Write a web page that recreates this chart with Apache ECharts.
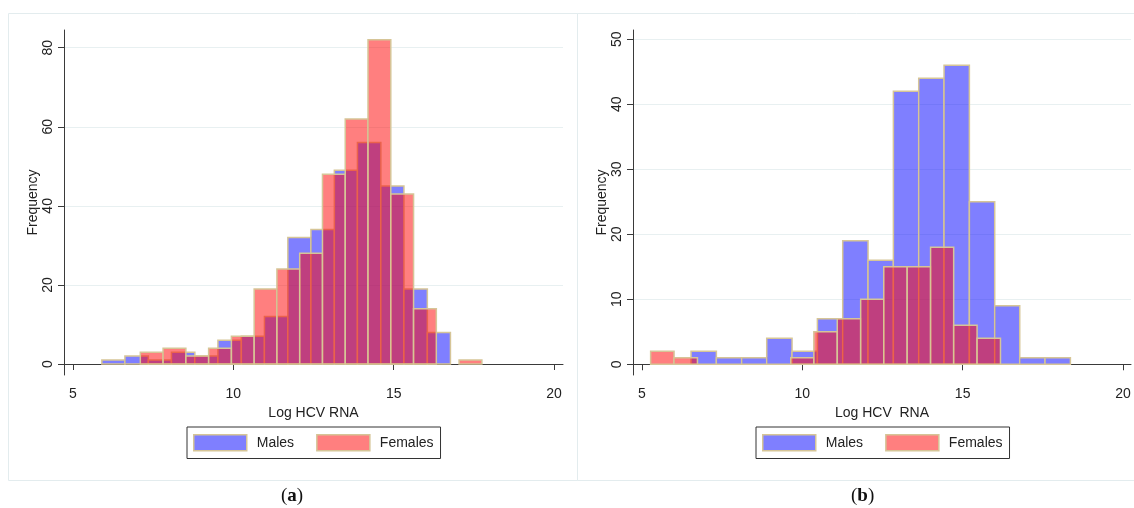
<!DOCTYPE html>
<html>
<head>
<meta charset="utf-8">
<script src="https://cdn.jsdelivr.net/npm/echarts@6/dist/echarts.min.js"></script>
<style>
  html, body { margin: 0; padding: 0; background: #fff; }
  #chart { width: 1134px; height: 508px; }
</style>
</head>
<body>
<div id="chart"></div>
<script>
// bin edges (Log HCV RNA)
const maleBinsA = [5.90, 6.62, 7.35, 8.07, 8.80, 9.52, 10.25, 10.97, 11.70, 12.42, 13.15, 13.87, 14.60, 15.32, 16.05, 16.77];
const femaleBinsA = [7.10, 7.81, 8.52, 9.23, 9.94, 10.65, 11.36, 12.07, 12.78, 13.49, 14.20, 14.91, 15.62, 16.33, 17.04, 17.75];
const maleBinsB = [6.53, 7.32, 8.11, 8.89, 9.68, 10.47, 11.26, 12.05, 12.84, 13.63, 14.42, 15.21, 16.00, 16.78, 17.57, 18.36];
const femaleBinsB = [5.27, 6.00, 6.73, 7.45, 8.18, 8.91, 9.64, 10.36, 11.09, 11.82, 12.54, 13.27, 14.00, 14.72, 15.45, 16.18];

// frequencies
const maleCountsA = [1, 2, 1, 3, 2, 6, 7, 12, 32, 34, 49, 56, 45, 19, 8];
const femaleCountsA = [3, 4, 2, 4, 7, 19, 24, 28, 48, 62, 82, 43, 14, 0, 1];
const maleCountsB = [2, 1, 1, 4, 2, 7, 19, 16, 42, 44, 46, 25, 9, 1, 1];
const femaleCountsB = [2, 1, 0, 0, 0, 0, 1, 5, 7, 10, 15, 15, 18, 6, 4];

// tick labels
const xTicks = [5, 10, 15, 20];
const yTicksA = [0, 20, 40, 60, 80];
const yTicksB = [0, 10, 20, 30, 40, 50];

const font = 'Liberation Sans';
const textColor = '#222';
const axisColor = '#3a3a3a';
const gridColor = '#e8f0f1';
const sand = '#d6c597';
const blue = 'rgba(0,0,255,0.5)';
const red = 'rgba(255,0,0,0.5)';

function toBins(edges, counts) {
    return counts.map((c, i) => [edges[i], edges[i + 1], c]);
}

function renderBar(params, api) {
    const h = api.value(2);
    if (!h) return null;
    const p0 = api.coord([api.value(0), h]);
    const p1 = api.coord([api.value(1), 0]);
    return {
        type: 'rect',
        shape: { x: p0[0], y: p0[1], width: p1[0] - p0[0], height: p1[1] - p0[1] },
        style: api.style()
    };
}

function makeXAxis(idx, max, name) {
    return {
        type: 'value', gridIndex: idx, min: 4.72, max: max,
        name: name, nameLocation: 'middle', nameGap: 28,
        nameTextStyle: { fontFamily: font, fontSize: 14, color: textColor },
        axisLine: { show: true, lineStyle: { color: axisColor, width: 1 } },
        axisTick: { show: true, length: 6, customValues: xTicks, lineStyle: { color: axisColor } },
        axisLabel: { customValues: xTicks, margin: 12, fontFamily: font, fontSize: 14, color: textColor },
        splitLine: { show: false }
    };
}

function makeYAxis(idx, min, max, ticks) {
    return {
        type: 'value', gridIndex: idx, min: min, max: max,
        name: 'Frequency', nameLocation: 'middle', nameGap: 24,
        nameTextStyle: { fontFamily: font, fontSize: 14, color: textColor },
        axisLine: { show: true, lineStyle: { color: axisColor, width: 1 } },
        axisTick: { show: true, length: 6, customValues: ticks, lineStyle: { color: axisColor } },
        axisLabel: { customValues: ticks, rotate: 90, margin: 9, fontFamily: font, fontSize: 14, color: textColor },
        splitLine: { show: false }
    };
}

function gridLines(idx, ticks) {
    return {
        type: 'line', xAxisIndex: idx, yAxisIndex: idx, data: [], z: 0,
        markLine: {
            z: 0, silent: true, symbol: ['none', 'none'], animation: false,
            label: { show: false },
            lineStyle: { color: gridColor, width: 1, type: 'solid' },
            data: ticks.map(v => ({ yAxis: v }))
        }
    };
}

function histSeries(idx, name, color, edges, counts) {
    return {
        type: 'custom', name: name, xAxisIndex: idx, yAxisIndex: idx, z: 4,
        renderItem: renderBar,
        itemStyle: { color: color, borderColor: sand, borderWidth: 1.5 },
        encode: { x: [0, 1], y: 2 },
        data: toBins(edges, counts)
    };
}

function makeLegend(left) {
    return {
        left: left, top: 427, orient: 'horizontal', selectedMode: false,
        icon: 'rect', itemWidth: 53, itemHeight: 16, itemGap: 22,
        borderColor: '#333', borderWidth: 1, padding: [7, 7, 7, 6],
        textStyle: { fontFamily: font, fontSize: 14, color: textColor, padding: [0, 0, 0, 5] },
        data: [
            { name: 'Males', itemStyle: { color: blue, borderColor: sand, borderWidth: 1.5 } },
            { name: 'Females', itemStyle: { color: red, borderColor: sand, borderWidth: 1.5 } }
        ]
    };
}

const chart = echarts.init(document.getElementById('chart'));
chart.setOption({
    animation: false,
    backgroundColor: '#fff',
    grid: [
        { left: 64, top: 30, width: 499, height: 345 },
        { left: 633, top: 30, width: 498, height: 345 }
    ],
    xAxis: [makeXAxis(0, 20.28, 'Log HCV RNA'), makeXAxis(1, 20.25, 'Log HCV  RNA')],
    yAxis: [makeYAxis(0, -2.78, 84.48, yTicksA), makeYAxis(1, -1.65, 51.43, yTicksB)],
    legend: [makeLegend(187), makeLegend(756)],
    series: [
        gridLines(0, yTicksA),
        histSeries(0, 'Males', blue, maleBinsA, maleCountsA),
        histSeries(0, 'Females', red, femaleBinsA, femaleCountsA),
        gridLines(1, yTicksB),
        histSeries(1, 'Males', blue, maleBinsB, maleCountsB),
        histSeries(1, 'Females', red, femaleBinsB, femaleCountsB)
    ],
    graphic: [
        { type: 'rect', z: -1, silent: true, shape: { x: 8.5, y: 13.5, width: 569, height: 467 },
          style: { fill: 'none', stroke: '#e3ecee', lineWidth: 1 } },
        { type: 'rect', z: -1, silent: true, shape: { x: 577.5, y: 13.5, width: 600, height: 467 },
          style: { fill: 'none', stroke: '#e3ecee', lineWidth: 1 } },
        { type: 'text', left: 281, top: 487,
          style: { text: '({b|a})', font: '19px "Liberation Serif"', fill: '#111',
                   rich: { b: { fontWeight: 'bold', fontSize: 19, fontFamily: 'Liberation Serif' } } } },
        { type: 'text', left: 851, top: 487,
          style: { text: '({b|b})', font: '19px "Liberation Serif"', fill: '#111',
                   rich: { b: { fontWeight: 'bold', fontSize: 19, fontFamily: 'Liberation Serif' } } } }
    ]
});
</script>
</body>
</html>
